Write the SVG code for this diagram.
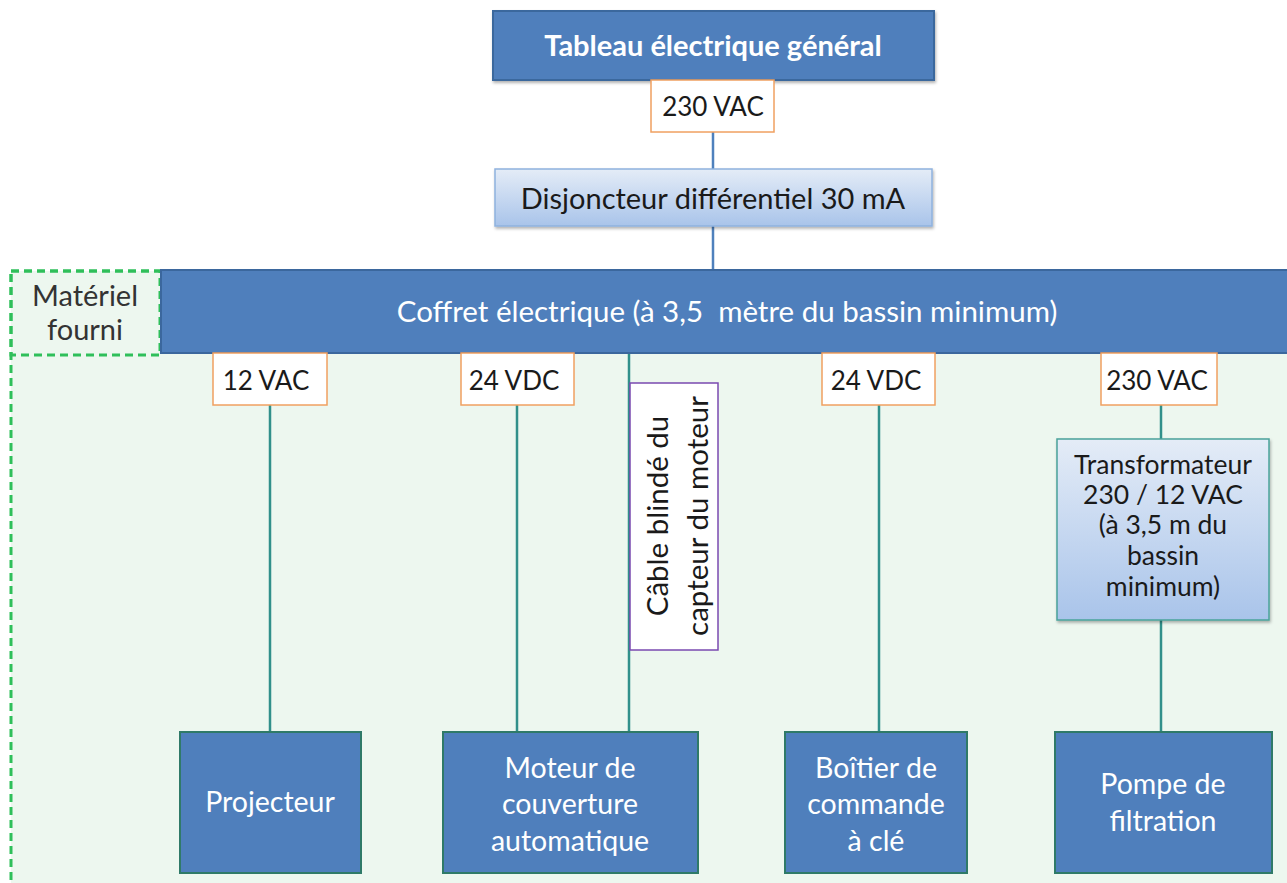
<svg xmlns="http://www.w3.org/2000/svg" width="1287" height="883" viewBox="0 0 1287 883">
<defs>
<linearGradient id="lb" x1="0" y1="0" x2="0" y2="1">
<stop offset="0" stop-color="#e4ecf7"/>
<stop offset="1" stop-color="#a9c4ea"/>
</linearGradient>
<filter id="sh" x="-5%" y="-5%" width="110%" height="115%">
<feDropShadow dx="1" dy="2" stdDeviation="1.5" flood-color="#000" flood-opacity="0.3"/>
</filter>
</defs>
<style>
text{font-family:Lato,"Open Sans","Liberation Sans",sans-serif;text-anchor:middle}
.dark{fill:#4f7fbc;stroke:#3b679d;stroke-width:2}
.darkg{fill:#4f7fbc;stroke:#2f7a68;stroke-width:2}
.light{fill:url(#lb);stroke:#8fb2de;stroke-width:1.5}
.lightg{fill:url(#lb);stroke:#4aa39a;stroke-width:1.5}
.lbl{fill:#fff;stroke:#f0a060;stroke-width:1.5}
.wt{fill:#fff;font-size:28.5px}
.bk{fill:#1a1a1a;font-size:28.5px}
.sm{font-size:26px}
.tr{font-size:26.5px}
.blue{stroke:#4f81bd;stroke-width:2.5;fill:none}
.teal{stroke:#31908a;stroke-width:2.5;fill:none}
</style>
<rect width="1287" height="883" fill="#fff"/>
<g id="zone">
<rect x="11" y="271" width="1290" height="620" fill="#edf7ef" stroke="#2fbf5a" stroke-width="3" stroke-dasharray="8 5"/>
</g>
<g id="connectors">
<line class="blue" x1="713" y1="132" x2="713" y2="170"/>
<line class="blue" x1="713" y1="226" x2="713" y2="271"/>
<line class="teal" x1="270" y1="405" x2="270" y2="732"/>
<line class="teal" x1="517" y1="405" x2="517" y2="732"/>
<line class="teal" x1="629" y1="353" x2="629" y2="732"/>
<line class="teal" x1="879" y1="405" x2="879" y2="732"/>
<line class="teal" x1="1161" y1="405" x2="1161" y2="440"/>
<line class="teal" x1="1161" y1="620" x2="1161" y2="732"/>
</g>
<g id="tableau">
<rect class="dark" x="493" y="11" width="441" height="69" filter="url(#sh)"/>
<text class="wt" x="713" y="56" font-weight="bold" style="font-size:29px">Tableau électrique général</text>
</g>
<g id="v230top">
<rect class="lbl" x="651" y="80" width="123" height="52"/>
<text class="bk sm" x="713" y="116">230 VAC</text>
</g>
<g id="disjoncteur">
<rect class="light" x="495" y="169" width="437" height="57" filter="url(#sh)"/>
<text class="bk" x="713" y="209" style="font-size:29px">Disjoncteur différentiel 30 mA</text>
</g>
<g id="materiel">
<rect x="11" y="271" width="149" height="84" fill="none" stroke="#2fbf5a" stroke-width="3" stroke-dasharray="8 5"/>
<text x="85" y="306" style="font-size:29px;fill:#333">Matériel</text>
<text x="85" y="340" style="font-size:29px;fill:#333">fourni</text>
</g>
<g id="coffret">
<rect class="dark" x="161" y="270" width="1130" height="83"/>
<text class="wt" x="727" y="322" xml:space="preserve" style="font-size:29.5px">Coffret électrique (à 3,5  mètre du bassin minimum)</text>
</g>
<g id="v12">
<rect class="lbl" x="213" y="353" width="114" height="52"/>
<text class="bk sm" x="266" y="390">12 VAC</text>
</g>
<g id="v24a">
<rect class="lbl" x="461" y="353" width="113" height="52"/>
<text class="bk sm" x="514" y="390">24 VDC</text>
</g>
<g id="v24b">
<rect class="lbl" x="822" y="353" width="113" height="52"/>
<text class="bk sm" x="876" y="390">24 VDC</text>
</g>
<g id="v230b">
<rect class="lbl" x="1101" y="353" width="116" height="52"/>
<text class="bk sm" x="1157" y="390">230 VAC</text>
</g>
<g id="cable">
<rect x="630" y="383" width="88" height="267" fill="#fff" stroke="#7a4ab0" stroke-width="1.5"/>
<g transform="translate(674,516) rotate(-90)">
<text class="bk" x="0" y="-6" style="font-size:29.5px">Câble blindé du</text>
<text class="bk" x="0" y="34" style="font-size:29.5px">capteur du moteur</text>
</g>
</g>
<g id="transformateur">
<rect class="lightg" x="1057" y="439" width="212" height="181" filter="url(#sh)"/>
<text class="bk tr" x="1163" y="474">Transformateur</text>
<text class="bk tr" x="1163" y="504">230 / 12 VAC</text>
<text class="bk tr" x="1163" y="534">(à 3,5 m du</text>
<text class="bk tr" x="1163" y="565">bassin</text>
<text class="bk tr" x="1163" y="596">minimum)</text>
</g>
<g id="projecteur">
<rect class="darkg" x="180" y="732" width="181" height="141"/>
<text class="wt" x="270" y="812">Projecteur</text>
</g>
<g id="moteur">
<rect class="darkg" x="443" y="732" width="255" height="141"/>
<text class="wt" x="570" y="778">Moteur de</text>
<text class="wt" x="570" y="814">couverture</text>
<text class="wt" x="570" y="851">automatique</text>
</g>
<g id="boitier">
<rect class="darkg" x="785" y="732" width="182" height="141"/>
<text class="wt" x="876" y="778">Boîtier de</text>
<text class="wt" x="876" y="814">commande</text>
<text class="wt" x="876" y="851">à clé</text>
</g>
<g id="pompe">
<rect class="darkg" x="1055" y="732" width="217" height="141"/>
<text class="wt" x="1163" y="794">Pompe de</text>
<text class="wt" x="1163" y="831">filtration</text>
</g>
</svg>
